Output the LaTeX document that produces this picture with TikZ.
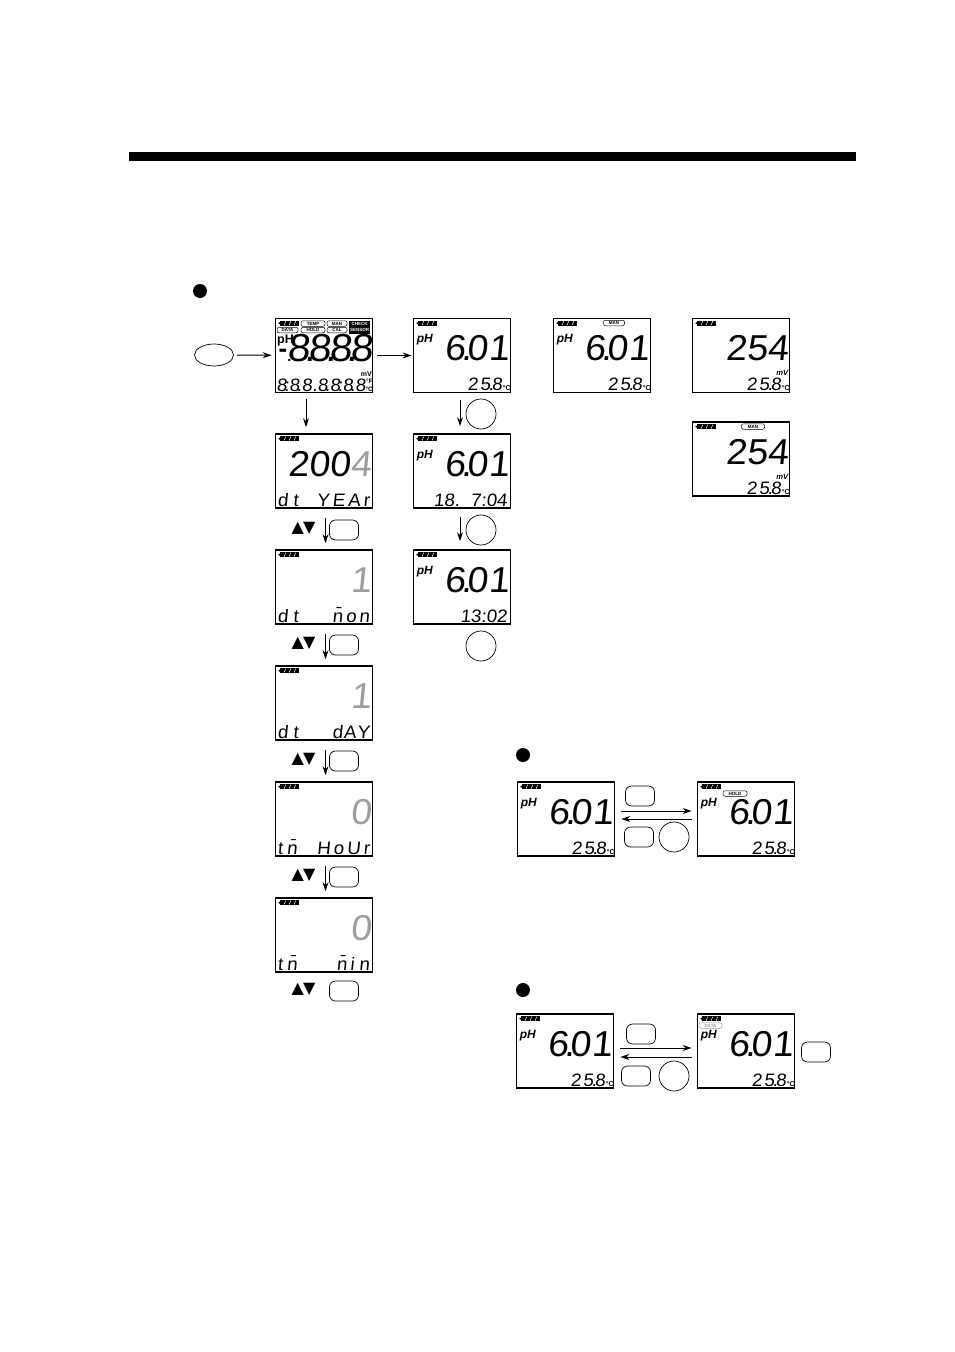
\documentclass[tikz,border=0pt]{standalone}
\usepackage{fontspec}
\usepackage{tikz}
\usetikzlibrary{arrows.meta,shapes.geometric}
\newfontfamily\lcdfont[FakeSlant=0.1,FakeStretch=1.04]{Liberation Sans}
\newfontfamily\markfont{Liberation Sans}
\newfontfamily\symfont{DejaVu Sans}
\definecolor{lcdgray}{gray}{0.62}
\tikzset{
  screen/.style={draw,line width=1.7pt,minimum width=97pt,minimum height=74pt,inner sep=0pt},
  bignum/.style={inner sep=0pt,anchor=base east,font=\lcdfont\fontsize{36}{36}\selectfont},
  lownum/.style={inner sep=0pt,anchor=base east,font=\lcdfont\fontsize{18}{18}\selectfont},
  unitmark/.style={inner sep=0pt,anchor=base east,font=\markfont\bfseries\fontsize{7}{7}\selectfont},
  phmark/.style={inner sep=0pt,anchor=west,font=\markfont\bfseries\itshape\fontsize{12}{12}\selectfont},
  pill/.style={draw,line width=.5pt,rounded corners=2pt,inner sep=0pt,minimum height=5.5pt,font=\markfont\bfseries\fontsize{4.5}{4.5}\selectfont},
  keybox/.style={draw,line width=.7pt,rounded corners=6pt,minimum width=29pt,minimum height=20pt,inner sep=0pt},
  roundkey/.style={draw,line width=.7pt,circle,minimum size=30pt,inner sep=0pt},
  powerkey/.style={draw,line width=.7pt,ellipse,minimum width=39pt,minimum height=22pt,inner sep=0pt},
  bullet/.style={circle,fill=black,minimum size=14pt,inner sep=0pt},
  updown/.style={inner sep=0pt,font=\symfont\fontsize{16}{16}\selectfont},
  flow/.style={->,line width=1pt}
}
% one display: frame and battery
\newcommand{\lcdbase}[3]{%
  \node (#1) at (#2,#3) [screen] {};
  \coordinate (#1bat) at ([shift={(3.5,3)}]#1.north west);
  \fill ([shift={(2,0)}]#1bat) rectangle ++(19,5);
  \fill ([shift={(0,2.5)}]#1bat) -- ++(3,-2) -- ++(0,4) -- cycle;
  \foreach \k in {6,11,16} {\draw[white,line width=.5pt] ([shift={(\k,4.5)}]#1bat) -- ++(1.5,-4);}
}
\newcommand{\lcdph}[1]{\node (#1ph) at ([shift={(4,22)}]#1.north west) [phmark] {pH};}
\newcommand{\lcdbig}[3][black]{\node (#2big) at ([shift={(-2,43)}]#2.north east) [bignum,text=#1] {#3};}
\newcommand{\lcdlow}[2]{\node (#1low) at ([shift={(-4,73)}]#1.north east) [lownum] {#2};}
\newcommand{\lcdtemp}[1]{%
  \node (#1low) at ([shift={(-9,73)}]#1.north east) [lownum] {2\kern2pt5\kern-2pt.\kern-2pt8};
  \node (#1unit) at ([shift={(-0.5,73)}]#1.north east) [unitmark] {°C};
}
\newcommand{\lcdmv}[1]{\node (#1mv) at ([shift={(-2,58)}]#1.north east) [unitmark,font=\markfont\bfseries\itshape\fontsize{7.5}{7.5}\selectfont] {mV};}
\newcommand{\lcdrow}[2]{\node (#1low) at ([shift={(49,73)}]#1.north west) [lownum,anchor=base] {\makebox[92pt]{#2}};}
\newcommand{\sixzero}{6\kern-4pt.\kern-5pt0\kern1pt 1}
\begin{document}
\begin{tikzpicture}[x=1pt,y=-1pt,>={Stealth[length=9pt,width=6pt]}]
\useasboundingbox (0,0) rectangle (954,1352);
\fill (129,152) rectangle (856,161);
\node (dot1) at (200,291) [bullet] {};
\node (dot2) at (523,755) [bullet] {};
\node (dot3) at (523,990) [bullet] {};

% start up
\node (power) at (214,355) [powerkey] {};
\lcdbase{full}{324}{355.5}
\node (fulltemp) at (313,323.5) [pill,minimum width=24pt] {TEMP};
\node (fullman) at (337,323.5) [pill,minimum width=20pt] {MAN};
\node (fulldata) at (287.5,330) [pill,minimum width=21pt] {DATA};
\node (fullhold) at (313,330) [pill,minimum width=24pt] {HOLD};
\node (fullcal) at (337,330) [pill,minimum width=20pt] {CAL};
\node (fullcheck) at (359.5,327) [fill=black,text=white,minimum width=21pt,minimum height=13pt,inner sep=0pt,align=center,font=\markfont\bfseries\fontsize{4.5}{5.5}\selectfont] {CHECK\\SENSOR};
\node (fullph) at (277,340) [phmark,font=\markfont\bfseries\fontsize{12.5}{12.5}\selectfont] {pH};
\node (fullminus) at (278.5,357) [inner sep=0pt,anchor=base west,font=\markfont\bfseries\fontsize{26}{26}\selectfont] {-\raisebox{-4pt}{\fontsize{14}{14}\selectfont.}};
\node (fullbig) at (373,361) [bignum,font=\lcdfont\fontsize{39}{39}\selectfont] {8\kern-6pt.\kern-7pt8\kern-6pt.\kern-7pt8\kern-6pt.\kern-7pt8};
\node (fulllow) at (366,391) [lownum] {8\kern-3pt:8\kern-3pt.8\kern3pt\kern-3pt.8\kern-3pt.8\kern-3pt:8\kern-3pt.8};
\node (fullmv) at (372,376) [unitmark] {mV};
\node (fullf) at (373,383.5) [unitmark,font=\markfont\bfseries\fontsize{6.5}{6.5}\selectfont] {°F};
\node (fullc) at (373,391) [unitmark,font=\markfont\bfseries\fontsize{6.5}{6.5}\selectfont] {°C};

% clock setting
\lcdbase{year}{324}{471}
\lcdbig[black]{year}{200\textcolor{lcdgray}{4}}
\lcdrow{year}{d\kern5pt t\hfill Y\kern3pt E\kern3pt A\kern3pt r}
\lcdbase{mon}{324}{587}
\lcdbig[lcdgray]{mon}{1}
\lcdrow{mon}{d\kern5pt t\hfill \=n\kern3pt o\kern3pt n}
\lcdbase{day}{324}{703}
\lcdbig[lcdgray]{day}{1}
\lcdrow{day}{d\kern5pt t\hfill d\kern1pt A\kern1pt Y}
\lcdbase{hour}{324}{819}
\lcdbig[lcdgray]{hour}{0}
\lcdrow{hour}{t\kern4pt\=n\hfill H\kern3pt o\kern3pt U\kern3pt r}
\lcdbase{min}{324}{935}
\lcdbig[lcdgray]{min}{0}
\lcdrow{min}{t\kern4pt\=n\hfill \=n\kern3pt i\kern5pt n}
\foreach \n/\y in {1/530,2/645,3/761,4/877,5/991} {
  \node (arrows\n) at (303.5,\y-2) [updown] {▲\kern-1pt▼};
  \node (set\n) at (344,\y) [keybox] {};
}
\draw[flow,shorten <=6pt,shorten >=6pt] ([xshift=-18pt]full.south) -- ([xshift=-18pt]year.north);
\foreach \a/\b in {year/mon,mon/day,day/hour,hour/min} {
  \draw[flow,shorten <=9pt,shorten >=6pt] ([xshift=1.5pt]\a.south) -- ([xshift=1.5pt]\b.north);
}
\draw[flow,shorten <=3pt,shorten >=3pt] (power) -- (full);
\lcdbase{meas}{462}{355.5}
\lcdph{meas}
\lcdbig{meas}{\sixzero}
\lcdtemp{meas}
\draw[flow,shorten <=4pt,shorten >=1pt] (full) -- (meas);

% date and time readout
\lcdbase{date}{462}{471}
\lcdph{date}
\lcdbig{date}{\sixzero}
\lcdlow{date}{18.\kern11pt 7:04}
\lcdbase{time}{462}{587}
\lcdph{time}
\lcdbig{time}{\sixzero}
\lcdlow{time}{13:02}
\node (mode1) at (481,414) [roundkey] {};
\node (mode2) at (481,530) [roundkey] {};
\node (mode3) at (481,646) [roundkey] {};
\draw[flow,shorten <=7pt,shorten >=7pt] ([xshift=-2pt]meas.south) -- ([xshift=-2pt]date.north);
\draw[flow,shorten <=8pt,shorten >=8pt] ([xshift=-2pt]date.south) -- ([xshift=-2pt]time.north);

% manual and mV displays
\lcdbase{manph}{602}{355.5}
\lcdph{manph}
\lcdbig{manph}{\sixzero}
\lcdtemp{manph}
\node (manpill) at (614,323) [pill,minimum width=21pt] {MAN};
\lcdbase{mvauto}{741}{355.5}
\lcdbig{mvauto}{254}
\lcdmv{mvauto}
\lcdtemp{mvauto}
\lcdbase{mvman}{741}{459}
\lcdbig{mvman}{254}
\lcdmv{mvman}
\lcdtemp{mvman}
\node (mvpill) at (753,426.5) [pill,minimum width=23pt] {MAN};

% hold
\lcdbase{liveA}{566}{819}
\lcdph{liveA}
\lcdbig{liveA}{\sixzero}
\lcdtemp{liveA}
\lcdbase{hold}{746}{819}
\lcdph{hold}
\lcdbig{hold}{\sixzero}
\lcdtemp{hold}
\node (holdpill) at (735,793.5) [pill,minimum width=24pt] {HOLD};
\node (holdkey) at (640,796) [keybox] {};
\node (holdoff) at (639,837) [keybox] {};
\node (holdround) at (674,837) [roundkey] {};
\draw[flow,shorten <=6pt,shorten >=5pt] ([yshift=8pt]liveA.east) -- ([yshift=8pt]hold.west);
\draw[flow,shorten <=5pt,shorten >=6pt] (hold.west) -- (liveA.east);

% data
\lcdbase{liveB}{565}{1051}
\lcdph{liveB}
\lcdbig{liveB}{\sixzero}
\lcdtemp{liveB}
\lcdbase{data}{746}{1051}
\lcdph{data}
\lcdbig{data}{\sixzero}
\lcdtemp{data}
\node (datapill) at (710.5,1025.5) [pill,draw=lcdgray,text=lcdgray,minimum width=23pt] {DATA};
\node (datakey) at (641,1034) [keybox] {};
\node (dataoff) at (636,1076) [keybox] {};
\node (dataround) at (674,1076) [roundkey] {};
\node (dataside) at (816,1052) [keybox] {};
\draw[flow,shorten <=6pt,shorten >=5pt] ([yshift=3pt]liveB.east) -- ([yshift=3pt]data.west);
\draw[flow,shorten <=5pt,shorten >=6pt] ([yshift=-6pt]data.west) -- ([yshift=-6pt]liveB.east);
\end{tikzpicture}
\end{document}
